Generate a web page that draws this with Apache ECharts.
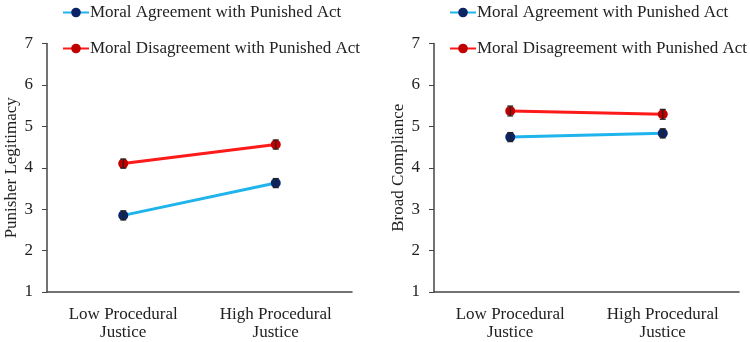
<!DOCTYPE html>
<html>
<head>
<meta charset="utf-8">
<script src="https://cdn.jsdelivr.net/npm/echarts@6/dist/echarts.min.js"></script>
<style>
  html, body { margin: 0; padding: 0; background: #fff; }
  #chart { width: 750px; height: 342px; }
</style>
</head>
<body>
<div id="chart"></div>
<script>
const categories = ['Low Procedural\nJustice', 'High Procedural\nJustice'];
const seriesNames = ['Moral Agreement with Punished Act', 'Moral Disagreement with Punished Act'];

// Punisher Legitimacy
const legitAgree = [2.85, 3.63];
const legitDisagree = [4.10, 4.56];
const legitAgreeErr = [0.11, 0.11];
const legitDisagreeErr = [0.11, 0.11];

// Broad Compliance
const complyAgree = [4.74, 4.83];
const complyDisagree = [5.37, 5.29];
const complyAgreeErr = [0.11, 0.11];
const complyDisagreeErr = [0.12, 0.12];

const yTicks = [1, 2, 3, 4, 5, 6, 7];

const font = 'Liberation Serif';
const lineColors = ['#1fb4ec', '#ff1a1a'];
const dotColors = ['#0b2466', '#c00000'];

function errData(vals, errs) {
  return vals.map((v, i) => [i, v - errs[i], v + errs[i]]);
}

function errSeries(name, axisIdx, vals, errs) {
  return {
    name: name,
    type: 'custom',
    xAxisIndex: axisIdx,
    yAxisIndex: axisIdx,
    z: 10,
    silent: true,
    data: errData(vals, errs),
    renderItem: (params, api) => {
      const x = api.value(0);
      const lo = api.coord([x, api.value(1)]);
      const hi = api.coord([x, api.value(2)]);
      const w = 3;
      const style = { stroke: '#222', lineWidth: 1.2 };
      return {
        type: 'group',
        children: [
          { type: 'line', shape: { x1: lo[0], y1: lo[1], x2: hi[0], y2: hi[1] }, style },
          { type: 'line', shape: { x1: lo[0] - w, y1: lo[1], x2: lo[0] + w, y2: lo[1] }, style },
          { type: 'line', shape: { x1: hi[0] - w, y1: hi[1], x2: hi[0] + w, y2: hi[1] }, style },
        ],
      };
    },
  };
}

function lineSeries(name, axisIdx, vals, k) {
  return {
    name: name,
    type: 'line',
    xAxisIndex: axisIdx,
    yAxisIndex: axisIdx,
    data: vals,
    symbol: 'circle',
    symbolSize: 10,
    lineStyle: { color: lineColors[k], width: 3 },
    itemStyle: { color: dotColors[k] },
    z: 5,
  };
}

function xAxisOpt(gridIdx) {
  return {
    type: 'category',
    gridIndex: gridIdx,
    data: categories,
    boundaryGap: true,
    axisLine: { lineStyle: { color: '#444', width: 1.5 } },
    axisTick: { show: false },
    axisLabel: { color: '#222', fontFamily: font, fontSize: 17, lineHeight: 18, margin: 14 },
  };
}

function yAxisOpt(gridIdx, name) {
  return {
    type: 'value',
    gridIndex: gridIdx,
    min: 1,
    max: 7,
    interval: 1,
    name: name,
    nameLocation: 'middle',
    nameGap: 27,
    nameTextStyle: { color: '#222', fontFamily: font, fontSize: 17 },
    splitLine: { show: false },
    axisLine: { show: true, lineStyle: { color: '#444', width: 1.5 } },
    axisTick: { show: true, length: 5, lineStyle: { color: '#444' } },
    axisLabel: {
      color: '#222',
      fontFamily: font,
      fontSize: 17,
      margin: 14,
      formatter: (v) => (yTicks.includes(v) ? String(v) : ''),
    },
  };
}

function legendOpt(left) {
  return {
    left: left,
    top: 4,
    padding: 0,
    orient: 'vertical',
    itemWidth: 26,
    itemHeight: 12,
    itemGap: 19,
    data: seriesNames.map((n) => ({ name: n })),
    textStyle: { color: '#222', fontFamily: font, fontSize: 17, padding: [0, 0, 0, -4] },
  };
}

const chart = echarts.init(document.getElementById('chart'));
chart.setOption({
  animation: false,
  legend: [legendOpt(62), legendOpt(449)],
  grid: [
    { left: 47, right: 398, top: 43.5, bottom: 45.5 },
    { left: 434, right: 11, top: 43.5, bottom: 45.5 },
  ],
  xAxis: [xAxisOpt(0), xAxisOpt(1)],
  yAxis: [yAxisOpt(0, 'Punisher Legitimacy'), yAxisOpt(1, 'Broad Compliance')],
  series: [
    lineSeries(seriesNames[0], 0, legitAgree, 0),
    lineSeries(seriesNames[1], 0, legitDisagree, 1),
    errSeries('errLA', 0, legitAgree, legitAgreeErr),
    errSeries('errLD', 0, legitDisagree, legitDisagreeErr),
    lineSeries(seriesNames[0], 1, complyAgree, 0),
    lineSeries(seriesNames[1], 1, complyDisagree, 1),
    errSeries('errCA', 1, complyAgree, complyAgreeErr),
    errSeries('errCD', 1, complyDisagree, complyDisagreeErr),
  ],
});
</script>
</body>
</html>
